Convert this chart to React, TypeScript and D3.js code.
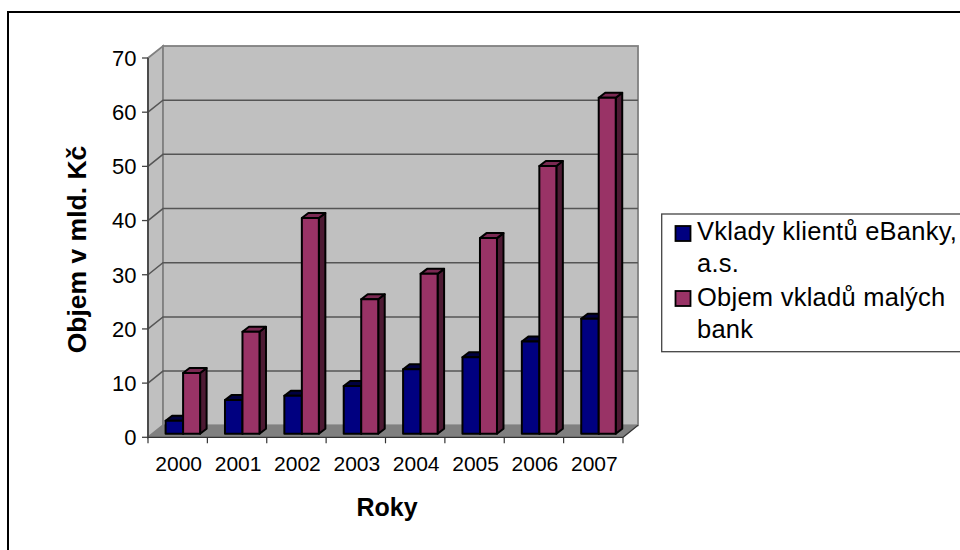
import React from "react";
import * as d3 from "d3";

const years = ["2000", "2001", "2002", "2003", "2004", "2005", "2006", "2007"];
const deposits = [2.4, 6.2, 7, 8.8, 11.9, 14.1, 17, 21.2];
const smallBanks = [11.2, 18.8, 39.8, 24.8, 29.5, 36.1, 49.4, 62];
const yTicks = [0, 10, 20, 30, 40, 50, 60, 70];
const yAxisTitle = "Objem v mld. Kč";
const xAxisTitle = "Roky";

const font = "'Liberation Sans', Arial, sans-serif";
const wallDx = 15;
const wallDy = -12;
const barDx = 6.5;
const barDy = -5;
const inset = { x: 0, y: -3.6 };

const x = d3.scaleBand<string>().domain(years).range([148, 623]);
const y = d3.scaleLinear().domain([0, 70]).range([437.3, 58]);

const Bar = ({ x0, w, v, front, top, side }: { x0: number; w: number; v: number; front: string; top: string; side: string }) => {
  const yt = y(v) + inset.y;
  const yb = y(0) + inset.y;
  const x1 = x0 + w;
  return (
    <g stroke="#000" strokeWidth={2} strokeLinejoin="round">
      <polygon points={`${x1},${yt} ${x1 + barDx},${yt + barDy} ${x1 + barDx},${yb + barDy} ${x1},${yb}`} fill={side} />
      <polygon points={`${x0},${yt} ${x0 + barDx},${yt + barDy} ${x1 + barDx},${yt + barDy} ${x1},${yt}`} fill={top} />
      <rect x={x0} y={yt} width={w} height={yb - yt} fill={front} />
    </g>
  );
};

export default function App() {
  const left = x.range()[0];
  const right = x.range()[1];
  const y0 = y(0);
  const y70 = y(70);
  return (
    <svg width={960} height={550} style={{ position: "absolute", left: 0, top: 0 }} fontFamily={font}>
      <rect width={960} height={550} fill="#fff" />
      <path d="M8,550 V12 H960" fill="none" stroke="#000" strokeWidth={2} />

      {/* side wall, back wall and floor */}
      <polygon points={`${left},${y0} ${left + wallDx},${y0 + wallDy} ${left + wallDx},${y70 + wallDy} ${left},${y70}`} fill="#c0c0c0" stroke="#808080" strokeWidth={1.8} />
      <rect x={left + wallDx} y={y70 + wallDy} width={right - left} height={y0 - y70} fill="#c0c0c0" stroke="#808080" strokeWidth={1.8} />
      <polygon points={`${left},${y0} ${left + wallDx},${y0 + wallDy} ${right + wallDx},${y0 + wallDy} ${right},${y0}`} fill="#808080" />

      {/* gridlines run along the side wall and across the back wall */}
      {yTicks.slice(1, -1).map((t) => (
        <path key={t} d={`M${left},${y(t)} L${left + wallDx},${y(t) + wallDy} H${right + wallDx}`} fill="none" stroke="#555" strokeWidth={1.5} />
      ))}
      <path d={`M${left},${y0} H${right} L${right + wallDx},${y0 + wallDy}`} fill="none" stroke="#333" strokeWidth={1.2} />

      {/* axes */}
      <line x1={left} x2={left} y1={y70} y2={y0} stroke="#444" strokeWidth={1.8} />
      {yTicks.map((t) => (
        <g key={t}>
          <line x1={left - 6} x2={left} y1={y(t)} y2={y(t)} stroke="#444" strokeWidth={1.3} />
          <text x={136.5} y={y(t)} dy="0.36em" textAnchor="end" fontSize={22}>{t}</text>
        </g>
      ))}
      {[...years.map((c) => x(c)!), right].map((px) => (
        <line key={px} x1={px} x2={px} y1={y0} y2={y0 + 6} stroke="#333" strokeWidth={1.2} />
      ))}
      {years.map((c) => (
        <text key={c} x={x(c)! + x.bandwidth() / 2 + 1} y={471} textAnchor="middle" fontSize={21}>{c}</text>
      ))}

      {/* bars */}
      {years.map((c, i) => {
        const start = x(c)! + 17.6;
        return (
          <g key={c}>
            <Bar x0={start} w={17.5} v={deposits[i]} front="#000080" top="#000040" side="#000040" />
            <Bar x0={start + 17.5} w={17} v={smallBanks[i]} front="#993366" top="#7a2952" side="#4d1a33" />
          </g>
        );
      })}

      <text x={387} y={516} textAnchor="middle" fontSize={25} fontWeight="bold">{xAxisTitle}</text>
      <text transform="translate(86,249.5) rotate(-90)" textAnchor="middle" fontSize={26.5} fontWeight="bold">{yAxisTitle}</text>

      {/* legend */}
      <rect x={661.7} y={214} width={310} height={137.7} fill="#fff" stroke="#444" strokeWidth={1.3} />
      <rect x={675.5} y={226} width={15} height={15} fill="#000080" stroke="#000" strokeWidth={1.8} />
      <rect x={675.5} y={291} width={15} height={15} fill="#993366" stroke="#000" strokeWidth={1.8} />
      <g fontSize={25.5} letterSpacing={0.25}>
        <text x={697} y={240}>Vklady klientů eBanky,</text>
        <text x={697} y={272}>a.s.</text>
        <text x={697} y={306}>Objem vkladů malých</text>
        <text x={697} y={338}>bank</text>
      </g>
    </svg>
  );
}
